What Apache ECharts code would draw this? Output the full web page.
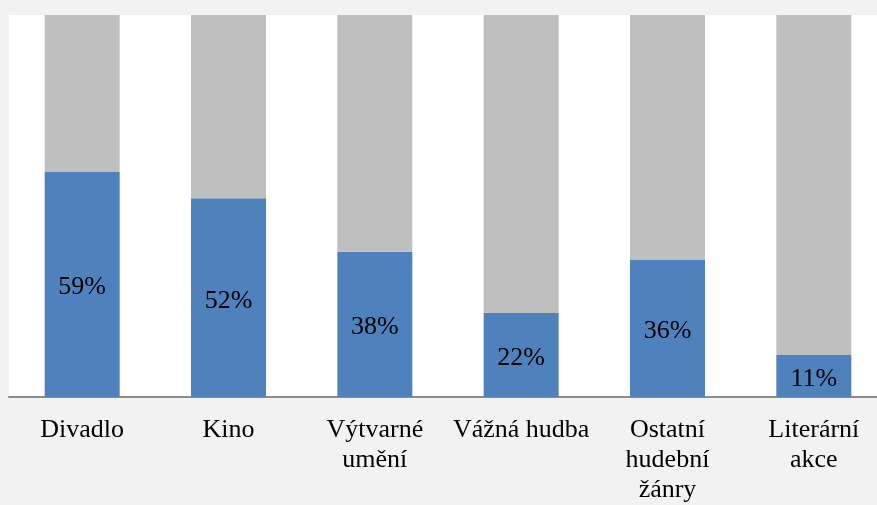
<!DOCTYPE html>
<html lang="cs">
<head>
    <meta charset="UTF-8">
    <title>Chart</title>
    <script src="https://cdn.jsdelivr.net/npm/echarts@6/dist/echarts.min.js"></script>
</head>
<body>
<div id="chart"></div>
</body>
<style>
    * {
        padding: 0;
        margin: 0;
    }

    html, body {
        width: 100%;
        height: 100%;
        background-color: #f2f2f2;
    }

    #chart {
        width: 877px;
        height: 505px;
    }
</style>
<script>
    const categories = ['Divadlo', 'Kino', 'Výtvarné\numění', 'Vážná hudba', 'Ostatní\nhudební\nžánry', 'Literární\nakce']
    const values = [59, 52, 38, 22, 36, 11]
    const rest = values.map(v => 100 - v)

    let chart = echarts.init(document.getElementById('chart'))
    chart.setOption({
        animation: false,
        backgroundColor: '#f2f2f2',
        grid: {
            left: 9,
            width: 878,
            top: 15,
            height: 382,
            outerBoundsMode: 'none',
            containLabel: false,
            show: true,
            backgroundColor: '#ffffff',
            borderWidth: 0
        },
        xAxis: {
            type: 'category',
            data: categories,
            axisLine: {lineStyle: {color: '#8c8c8c', width: 2}},
            axisTick: {show: false},
            axisLabel: {
                color: '#000',
                fontFamily: 'Liberation Serif',
                fontSize: 26,
                lineHeight: 30,
                margin: 18,
                interval: 0
            }
        },
        yAxis: {
            type: 'value',
            min: 0,
            max: 100,
            show: false
        },
        series: [
            {
                type: 'bar',
                stack: 'a',
                data: values,
                barWidth: 75,
                itemStyle: {color: '#4f81bd'},
                label: {
                    show: true,
                    position: 'inside',
                    offset: [0, 3],
                    formatter: '{c}%',
                    color: '#000',
                    fontFamily: 'Liberation Serif',
                    fontSize: 26
                }
            },
            {
                type: 'bar',
                stack: 'a',
                data: rest,
                barWidth: 75,
                itemStyle: {color: '#bfbfbf'}
            }
        ]
    })
</script>
</html>
